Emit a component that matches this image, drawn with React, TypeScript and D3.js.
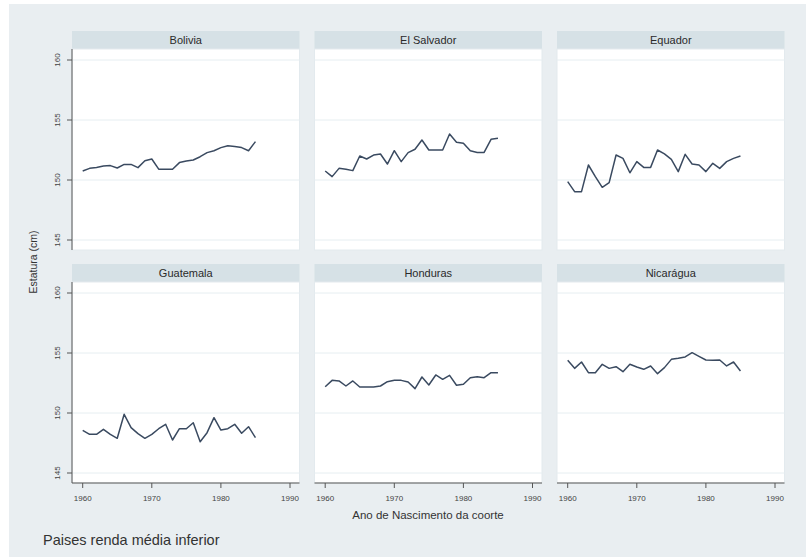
import React from "react";
import * as d3 from "d3";

const years: number[] = d3.range(1960, 1986);
const countries: string[] = ["Bolivia", "El Salvador", "Equador", "Guatemala", "Honduras", "Nicarágua"];

const bolivia: number[] = [150.75, 150.97, 151.05, 151.17, 151.2, 151.0, 151.3, 151.3, 151.03, 151.6, 151.75, 150.9, 150.9, 150.9, 151.45, 151.58, 151.67, 151.94, 152.28, 152.44, 152.7, 152.86, 152.8, 152.7, 152.44, 153.2];
const elSalvador: number[] = [150.75, 150.28, 150.97, 150.9, 150.78, 152.0, 151.75, 152.08, 152.17, 151.33, 152.44, 151.53, 152.28, 152.56, 153.33, 152.5, 152.5, 152.5, 153.83, 153.14, 153.06, 152.44, 152.3, 152.3, 153.39, 153.47];
const equador: number[] = [149.86, 149.03, 149.03, 151.25, 150.28, 149.39, 149.78, 152.08, 151.8, 150.6, 151.53, 151.05, 151.05, 152.5, 152.17, 151.72, 150.7, 152.14, 151.33, 151.25, 150.7, 151.39, 150.97, 151.53, 151.8, 152.0];
const guatemala: number[] = [148.56, 148.22, 148.22, 148.64, 148.22, 147.89, 149.89, 148.78, 148.28, 147.89, 148.22, 148.69, 149.06, 147.75, 148.69, 148.69, 149.19, 147.61, 148.36, 149.61, 148.58, 148.69, 149.06, 148.31, 148.86, 147.94];
const honduras: number[] = [152.19, 152.72, 152.67, 152.25, 152.67, 152.17, 152.17, 152.17, 152.25, 152.61, 152.72, 152.72, 152.58, 152.03, 153.0, 152.33, 153.17, 152.81, 153.14, 152.31, 152.39, 152.94, 153.03, 152.94, 153.36, 153.36];
const nicaragua: number[] = [154.39, 153.72, 154.25, 153.36, 153.36, 154.06, 153.72, 153.86, 153.44, 154.06, 153.83, 153.64, 153.92, 153.28, 153.78, 154.47, 154.56, 154.67, 155.03, 154.72, 154.42, 154.39, 154.42, 153.92, 154.25, 153.5];

const seriesList: number[][] = [bolivia, elSalvador, equador, guatemala, honduras, nicaragua];

const xTicks: number[] = [1960, 1970, 1980, 1990];
const yTicks: number[] = [145, 150, 155, 160];

const yTitle = "Estatura (cm)";
const xTitle = "Ano de Nascimento da coorte";
const note = "Paises renda média inferior";

const W = 806;
const H = 558;
const colLeft = [72, 314.5, 557];
const plotW = 227.5;
const rowTop = [49, 282];
const plotH = 201;
const stripH = 18;

const BG = "#e9eef1";
const STRIP = "#d6e1e6";
const LINE = "#3a4a60";
const AXIS = "#555";
const FONT = "Arial, 'Liberation Sans', Helvetica, sans-serif";

export default function App() {
  return (
    <svg width={W} height={H} style={{ position: "absolute", left: 0, top: 0 }} fontFamily={FONT}>
      <rect x={0} y={0} width={W} height={H} fill="#ffffff" />
      <rect x={9} y={4} width={W - 9} height={H - 5} fill={BG} />
      {countries.map((name, k) => {
        const col = k % 3;
        const row = Math.floor(k / 3);
        const left = colLeft[col];
        const top = rowTop[row];
        const x = d3.scaleLinear().domain([1960, 1990]).range([left + 10.7, left + 218]);
        const y = d3.scaleLinear().domain([145, 160]).range([top + 191, top + 11]);
        const line = d3
          .line<number>()
          .x((_, i) => x(years[i]))
          .y((v) => y(v));
        const data = seriesList[k];
        return (
          <g key={name}>
            <rect x={left} y={top - stripH} width={plotW} height={stripH} fill={STRIP} />
            <text x={left + plotW / 2} y={top - stripH / 2 + 4} textAnchor="middle" fontSize={11} fill="#2a2a2a">
              {name}
            </text>
            <rect x={left} y={top} width={plotW} height={plotH} fill="#ffffff" stroke="#e3eaee" strokeWidth={1} />
            {yTicks.map((t) => (
              <line key={t} x1={left} x2={left + plotW} y1={y(t)} y2={y(t)} stroke="#e6eef1" strokeWidth={1} />
            ))}
            <path d={line(data) || ""} fill="none" stroke={LINE} strokeWidth={1.5} strokeLinejoin="round" />
            {col === 0 && (
              <g>
                <line x1={left} x2={left} y1={top} y2={top + plotH} stroke={AXIS} strokeWidth={1} />
                {yTicks.map((t) => (
                  <g key={t}>
                    <line x1={left - 5} x2={left} y1={y(t)} y2={y(t)} stroke={AXIS} strokeWidth={1} />
                    <text
                      transform={`translate(${left - 15},${y(t)}) rotate(-90)`}
                      textAnchor="middle"
                      dy="0.35em"
                      fontSize={8}
                      fill="#444"
                    >
                      {t}
                    </text>
                  </g>
                ))}
              </g>
            )}
            {row === 1 && (
              <g>
                <line x1={left} x2={left + plotW} y1={top + plotH} y2={top + plotH} stroke={AXIS} strokeWidth={1} />
                {xTicks.map((t) => (
                  <g key={t}>
                    <line x1={x(t)} x2={x(t)} y1={top + plotH} y2={top + plotH + 5} stroke={AXIS} strokeWidth={1} />
                    <text x={x(t)} y={top + plotH + 18} textAnchor="middle" fontSize={8} fill="#444">
                      {t}
                    </text>
                  </g>
                ))}
              </g>
            )}
          </g>
        );
      })}
      <text transform={`translate(37,262) rotate(-90)`} textAnchor="middle" fontSize={10.5} fill="#333">
        {yTitle}
      </text>
      <text x={428} y={519} textAnchor="middle" fontSize={11.5} fill="#333">
        {xTitle}
      </text>
      <text x={43} y={545} fontSize={14.5} fill="#333">
        {note}
      </text>
    </svg>
  );
}
